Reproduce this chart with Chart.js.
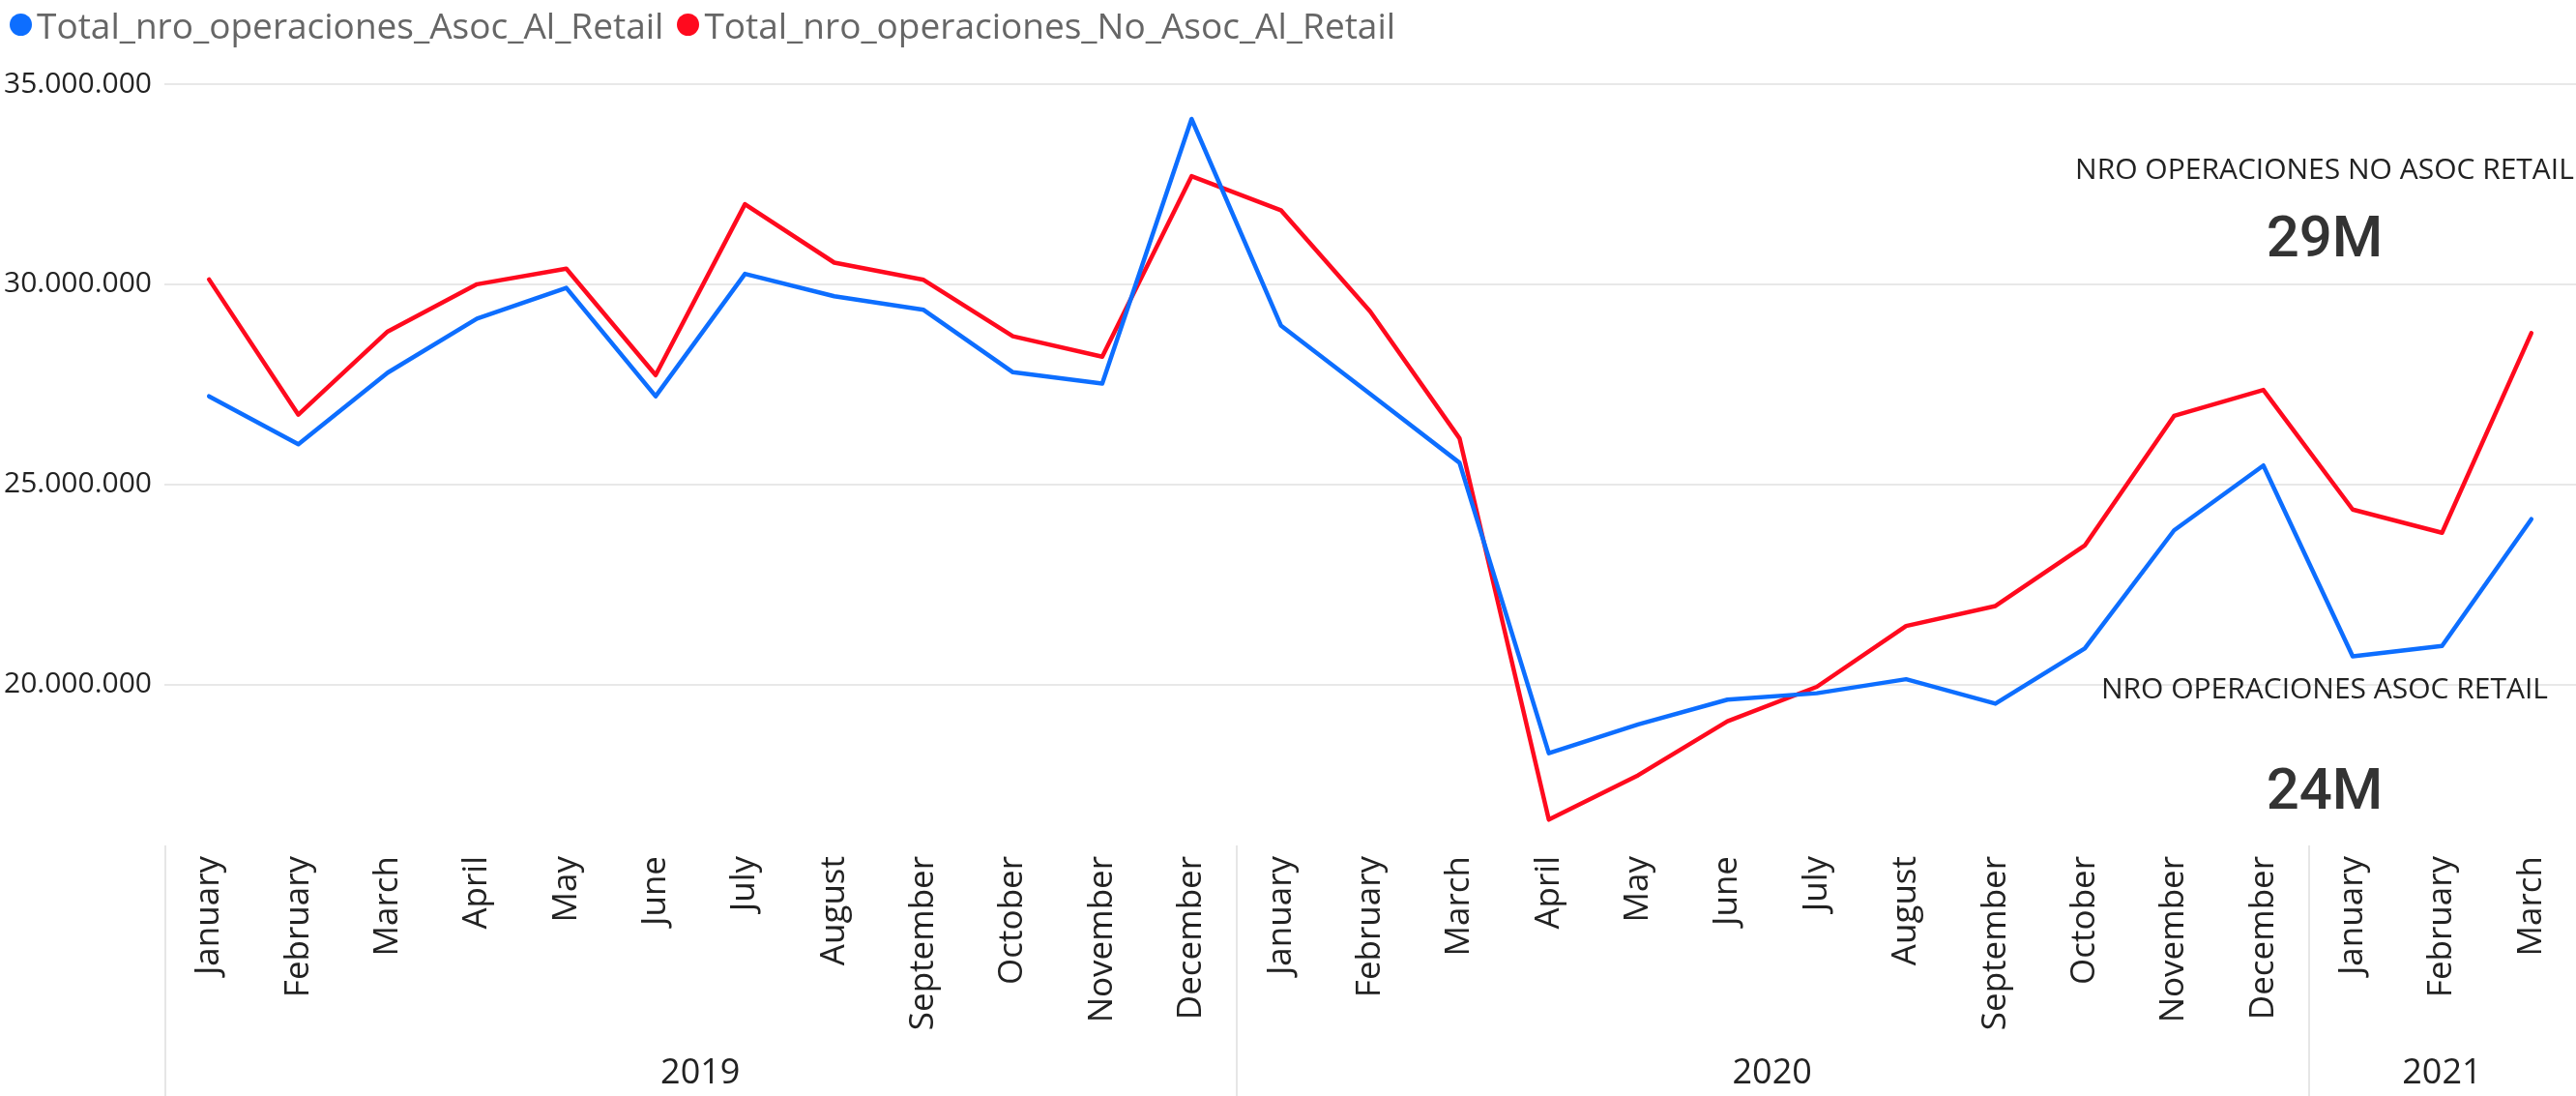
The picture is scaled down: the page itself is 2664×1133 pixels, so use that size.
<!DOCTYPE html>
<html>
<head>
<meta charset="utf-8">
<script src="https://cdn.jsdelivr.net/npm/chart.js@4/dist/chart.umd.min.js"></script>
<style>
  body { margin: 0; background: #fff; }
  #wrap { position: relative; width: 2664px; height: 1133px; font-family: 'Open Sans', sans-serif; }
  #legend { position: absolute; left: 10px; top: 7px; display: flex; align-items: center; font-size: 37px; line-height: 1; color: #666; }
  #legend .item { display: flex; align-items: center; margin-right: 14px; }
  #legend .dot { width: 23px; height: 23px; border-radius: 50%; margin-right: 5px; }
  .card-title { position: absolute; left: 2104px; width: 600px; text-align: center; font-size: 30px; line-height: 1; color: #222; }
  .card-value { position: absolute; left: 2104px; width: 600px; text-align: center; font-family: Roboto, sans-serif; font-weight: 500; font-size: 60px; line-height: 1; color: #333; }
</style>
</head>
<body>
<div id="wrap">
  <canvas id="myChart"></canvas>
  <div id="legend"></div>
  <div class="card-title" style="top:159px">NRO OPERACIONES NO ASOC RETAIL</div>
  <div class="card-value" style="top:215px">29M</div>
  <div class="card-title" style="top:696px">NRO OPERACIONES ASOC RETAIL</div>
  <div class="card-value" style="top:786px">24M</div>
</div>
<script>
// months shown on the axis (Jan 2019 - Mar 2021)
const months = [
  'January', 'February', 'March', 'April', 'May', 'June',
  'July', 'August', 'September', 'October', 'November', 'December',
  'January', 'February', 'March', 'April', 'May', 'June',
  'July', 'August', 'September', 'October', 'November', 'December',
  'January', 'February', 'March'
];
const yearLabels = ['2019', '2020', '2021'];
const monthsPerYear = [12, 12, 3];

const asocRetail = [
  27200000, 26000000, 27790000, 29140000, 29910000, 27200000,
  30260000, 29700000, 29360000, 27800000, 27520000, 34130000,
  28970000, 27260000, 25540000, 18280000, 19000000, 19620000,
  19780000, 20130000, 19520000, 20900000, 23850000, 25470000,
  20700000, 20960000, 24130000
];
const noAsocRetail = [
  30120000, 26740000, 28820000, 30000000, 30390000, 27730000,
  32000000, 30540000, 30110000, 28700000, 28190000, 32700000,
  31850000, 29320000, 26150000, 16620000, 17730000, 19080000,
  19940000, 21460000, 21960000, 23470000, 26710000, 27360000,
  24370000, 23790000, 28780000
];
const yTicks = [20000000, 25000000, 30000000, 35000000];

const seriesNames = ['Total_nro_operaciones_Asoc_Al_Retail', 'Total_nro_operaciones_No_Asoc_Al_Retail'];
const seriesColors = ['#0D6EFF', '#FF0A1E'];

// year group centres / boundaries in category index units
const yearCenters = [];
const yearBounds = [-0.5];
let start = 0;
monthsPerYear.forEach(n => {
  yearCenters.push(start + (n - 1) / 2);
  start += n;
  yearBounds.push(start - 0.5);
});

// html legend
const legendEl = document.getElementById('legend');
seriesNames.forEach((name, i) => {
  const item = document.createElement('div');
  item.className = 'item';
  item.innerHTML = '<span class="dot" style="background:' + seriesColors[i] + '"></span><span>' + name + '</span>';
  legendEl.appendChild(item);
});

// light separators between years under the plot
const yearSeparators = {
  id: 'yearSeparators',
  afterDraw(chart) {
    const x = chart.scales.x2;
    const ctx = chart.ctx;
    ctx.save();
    ctx.strokeStyle = '#E6E6E6';
    ctx.lineWidth = 2;
    yearBounds.slice(0, -1).forEach(b => {
      const px = Math.round(x.getPixelForValue(b)) + 1;
      ctx.beginPath();
      ctx.moveTo(px, chart.chartArea.bottom + 1);
      ctx.lineTo(px, chart.height);
      ctx.stroke();
    });
    ctx.restore();
  }
};

// no side padding for the bottom axes, the plot runs to the right edge
function noSidePad(s) {
  s.paddingLeft = 0;
  s.paddingRight = 0;
}

Chart.defaults.font.family = "'Open Sans', sans-serif";

const ctx = document.getElementById('myChart').getContext('2d');

var chart = new Chart(ctx, {
  type: 'line',
  data: {
    labels: months,
    datasets: [{
      label: seriesNames[0],
      data: asocRetail,
      borderColor: seriesColors[0],
      backgroundColor: seriesColors[0],
      borderWidth: 4.5,
      pointRadius: 0,
      borderJoinStyle: 'round',
      borderCapStyle: 'round'
    }, {
      label: seriesNames[1],
      data: noAsocRetail,
      borderColor: seriesColors[1],
      backgroundColor: seriesColors[1],
      borderWidth: 4.5,
      pointRadius: 0,
      borderJoinStyle: 'round',
      borderCapStyle: 'round'
    }]
  },
  options: {
    responsive: true,
    maintainAspectRatio: false,
    animation: false,
    layout: {
      padding: { top: 87, left: 0, right: 0, bottom: 0 }
    },
    plugins: {
      legend: { display: false },
      tooltip: { enabled: false }
    },
    scales: {
      x: {
        offset: true,
        weight: 0,
        grid: { display: false, drawTicks: false },
        border: { display: false },
        ticks: {
          autoSkip: false,
          minRotation: 90,
          maxRotation: 90,
          padding: 12,
          color: '#222',
          font: { size: 35 }
        },
        afterFit: s => { s.height = 195; noSidePad(s); }
      },
      x2: {
        type: 'linear',
        position: 'bottom',
        weight: 1,
        min: -0.5,
        max: months.length - 0.5,
        grid: { display: false, drawTicks: false },
        border: { display: false },
        ticks: {
          autoSkip: false,
          maxRotation: 0,
          padding: 20,
          color: '#222',
          font: { size: 36 },
          callback: (v, i) => yearLabels[i]
        },
        afterBuildTicks: s => { s.ticks = yearCenters.map(v => ({ value: v })); },
        afterFit: s => { s.height = 65; noSidePad(s); }
      },
      y: {
        min: 16000000,
        max: 35000000,
        grid: { color: '#E8E8E8', lineWidth: 2, drawTicks: false },
        border: { display: false },
        ticks: {
          padding: 13,
          color: '#222',
          font: { size: 30 },
          callback: v => String(v).replace(/\B(?=(\d{3})+(?!\d))/g, '.')
        },
        afterBuildTicks: s => { s.ticks = yTicks.map(v => ({ value: v })); },
        afterFit: s => { s.width = 170; }
      }
    }
  },
  plugins: [yearSeparators]
});
</script>
</body>
</html>
